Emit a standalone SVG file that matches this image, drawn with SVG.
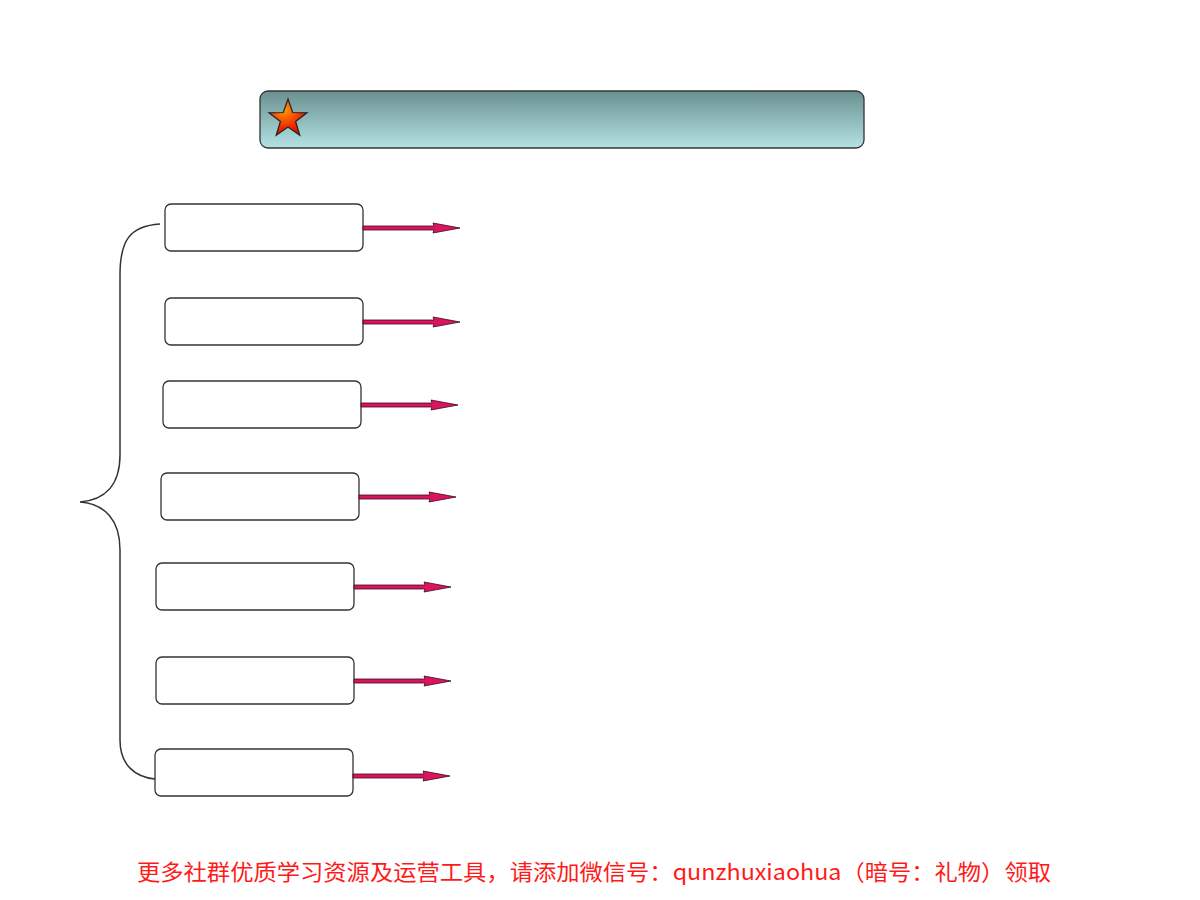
<svg xmlns="http://www.w3.org/2000/svg" width="1200" height="900" viewBox="0 0 1200 900">
<style>
.box{fill:#fff;stroke:#333;stroke-width:1.3}
.arr{fill:#dc1460;stroke:#3a0a1a;stroke-width:0.8}
.brace{fill:none;stroke:#333;stroke-width:1.5}
.note{font-family:"Noto Sans CJK SC","Liberation Sans",sans-serif;font-size:22px;fill:#ff1a1a}
</style>
<defs>
<linearGradient id="hg" x1="0" y1="0" x2="0" y2="1">
<stop offset="0" stop-color="#6a9090"/>
<stop offset="1" stop-color="#b4e2e3"/>
</linearGradient>
<radialGradient id="sg" cx="0.4" cy="0.3" r="0.75">
<stop offset="0" stop-color="#ff9a00"/>
<stop offset="0.6" stop-color="#f03000"/>
<stop offset="1" stop-color="#d00a00"/>
</radialGradient>
</defs>
<rect width="1200" height="900" fill="#fff"/>
<g id="header">
<rect x="260" y="91" width="604" height="57" rx="8" fill="url(#hg)" stroke="#333" stroke-width="1.3"/>
<polygon points="288,99 292.7,112.5 307,112.8 295.6,121.5 299.8,135.2 288,127 276.2,135.2 280.4,121.5 269,112.8 283.3,112.5" fill="url(#sg)" stroke="#222" stroke-width="1.2"/>
</g>
<g id="node1"><rect class="box" x="165" y="204" width="198" height="47" rx="6"/></g>
<g id="node2"><rect class="box" x="165" y="298" width="198" height="47" rx="6"/></g>
<g id="node3"><rect class="box" x="163" y="381" width="198" height="47" rx="6"/></g>
<g id="node4"><rect class="box" x="161" y="473" width="198" height="47" rx="6"/></g>
<g id="node5"><rect class="box" x="156" y="563" width="198" height="47" rx="6"/></g>
<g id="node6"><rect class="box" x="156" y="657" width="198" height="47" rx="6"/></g>
<g id="node7"><rect class="box" x="155" y="749" width="198" height="47" rx="6"/></g>
<g id="connectors">
<path class="brace" d="M160,224 C130,226 120,240 120,275 L120,455 C120,485 105,500 80,502 C105,504 120,520 120,550 L120,740 C120,765 135,777 155,779"/>
<path class="arr" d="M363,226 L434,226 L433,223 L460,228 L433,233 L434,230 L363,230 Z"/>
<path class="arr" d="M363,320 L434,320 L433,317 L460,322 L433,327 L434,324 L363,324 Z"/>
<path class="arr" d="M361,403 L432,403 L431,400 L458,405 L431,410 L432,407 L361,407 Z"/>
<path class="arr" d="M359,495 L430,495 L429,492 L456,497 L429,502 L430,499 L359,499 Z"/>
<path class="arr" d="M354,585 L425,585 L424,582 L451,587 L424,592 L425,589 L354,589 Z"/>
<path class="arr" d="M354,679 L425,679 L424,676 L451,681 L424,686 L425,683 L354,683 Z"/>
<path class="arr" d="M353,774 L424,774 L423,771 L450,776 L423,781 L424,778 L353,778 Z"/>
</g>
<text class="note" x="137" y="880" textLength="914" lengthAdjust="spacingAndGlyphs">更多社群优质学习资源及运营工具，请添加微信号：qunzhuxiaohua（暗号：礼物）领取</text>
</svg>
